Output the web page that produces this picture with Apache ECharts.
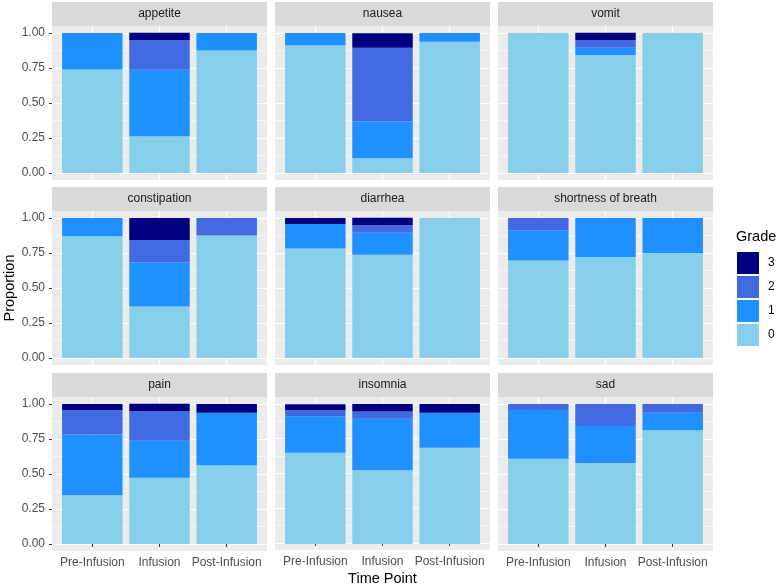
<!DOCTYPE html>
<html>
<head>
<meta charset="utf-8">
<script src="https://cdn.jsdelivr.net/npm/echarts@6/dist/echarts.min.js"></script>
<style>html,body{margin:0;padding:0;background:#fff;}#c{width:781px;height:587px;}</style>
</head>
<body>
<div id="c"></div>
<script>
const symptoms = ['appetite','nausea','vomit','constipation','diarrhea','shortness of breath','pain','insomnia','sad'];
const timePoints = ['Pre-Infusion','Infusion','Post-Infusion'];
const grades = ['0','1','2','3'];
const gradeColors = ['#87CEEB','#1E90FF','#4169E1','#000080'];
const yTicks = [0, 0.25, 0.5, 0.75, 1];
const yMinorTicks = [0.125, 0.375, 0.625, 0.875];
// proportion per symptom [Pre, Infusion, Post]
const grade0 = [[0.739,0.263,0.875],[0.913,0.105,0.9375],[1,0.842,1],[0.87,0.368,0.875],[0.783,0.737,1],[0.696,0.722,0.75],[0.348,0.474,0.5625],[0.652,0.526,0.6875],[0.609,0.579,0.8125]];
const grade1 = [[0.261,0.474,0.125],[0.087,0.263,0.0625],[0,0.053,0],[0.13,0.316,0],[0.174,0.158,0],[0.217,0.278,0.25],[0.435,0.263,0.375],[0.261,0.368,0.25],[0.348,0.263,0.125]];
const grade2 = [[0,0.211,0],[0,0.526,0],[0,0.053,0],[0,0.158,0.125],[0,0.053,0],[0.087,0,0],[0.174,0.211,0],[0.043,0.053,0],[0.043,0.158,0.0625]];
const grade3 = [[0,0.053,0],[0,0.105,0],[0,0.053,0],[0,0.158,0],[0.043,0.053,0],[0,0,0],[0.043,0.053,0.0625],[0.043,0.053,0.0625],[0,0,0]];
const gradeData = [grade0, grade1, grade2, grade3];

const FONT = "'Liberation Sans', Arial, sans-serif";
const colLeft = [52, 275, 498];
const stripTop = [2, 187, 373];
const panelW = 215, stripH = 24, panelH = 154;
const yMin = -0.05, yMax = 1.05;
// discrete axis positions 1..n, ggplot-like expansion of 0.6 on each side
const nCat = timePoints.length;
const xPos = timePoints.map((t, k) => k + 1);
const xMin = 0.4, xMax = nCat + 0.6;
const unitPx = panelW / (xMax - xMin);

const grids = [], xAxes = [], yAxes = [], series = [], graphics = [];
symptoms.forEach((s, i) => {
  const r = Math.floor(i / 3), c = i % 3;
  const top = stripTop[r] + stripH;
  const bottomRow = r === 2, firstCol = c === 0;
  // background panel grid (full width, holds grid lines, ticks, labels)
  grids.push({left: colLeft[c], top: top, width: panelW, height: panelH, show: true, backgroundColor: '#EBEBEB', borderWidth: 0});
  // bar grid: category bands covering 0.5..n+0.5
  grids.push({left: colLeft[c] + (0.5 - xMin) * unitPx, top: top, width: nCat * unitPx, height: panelH, show: false});
  xAxes.push({
    type: 'value', gridIndex: 2 * i, min: xMin, max: xMax,
    axisLine: {show: false},
    axisTick: {show: bottomRow, length: 3, customValues: xPos, lineStyle: {color: '#333333', width: 1}},
    axisLabel: {show: bottomRow, customValues: xPos, color: '#4D4D4D', fontSize: 12, fontFamily: FONT, margin: 6,
      formatter: v => timePoints[Math.round(v) - 1]},
    splitLine: {show: true, lineStyle: {color: '#FFFFFF', width: 1.2}},
    name: (i === 7) ? 'Time Point' : '', nameLocation: 'middle', nameGap: 21,
    nameTextStyle: {color: '#000', fontSize: 14.5, fontFamily: FONT}
  });
  xAxes.push({
    type: 'category', gridIndex: 2 * i + 1, data: timePoints,
    axisLine: {show: false}, axisTick: {show: false}, axisLabel: {show: false}, splitLine: {show: false}
  });
  yAxes.push({
    type: 'value', gridIndex: 2 * i, min: yMin, max: yMax,
    axisLine: {show: false},
    axisTick: {show: firstCol, length: 3, customValues: yTicks, lineStyle: {color: '#333333', width: 1}},
    axisLabel: {show: firstCol, customValues: yTicks, color: '#4D4D4D', fontSize: 12, fontFamily: FONT, margin: 7,
      formatter: v => Number(v).toFixed(2)},
    splitLine: {show: true, lineStyle: {color: '#FFFFFF', width: 1.2}},
    name: (i === 3) ? 'Proportion' : '', nameLocation: 'middle', nameGap: 34,
    nameTextStyle: {color: '#000', fontSize: 14.5, fontFamily: FONT}
  });
  yAxes.push({
    type: 'value', gridIndex: 2 * i, min: yMin, max: yMax,
    axisLine: {show: false}, axisLabel: {show: false},
    axisTick: {show: false, customValues: yMinorTicks},
    splitLine: {show: true, lineStyle: {color: '#FFFFFF', width: 0.6}}
  });
  yAxes.push({
    type: 'value', gridIndex: 2 * i + 1, min: yMin, max: yMax,
    axisLine: {show: false}, axisTick: {show: false}, axisLabel: {show: false}, splitLine: {show: false}
  });
  grades.forEach((g, gi) => {
    series.push({
      type: 'bar', name: g, xAxisIndex: 2 * i + 1, yAxisIndex: 3 * i + 2, stack: 'p' + i,
      data: gradeData[gi][i], barCategoryGap: '10%', silent: true,
      itemStyle: {color: gradeColors[gi]}
    });
  });
  graphics.push({
    type: 'rect', left: colLeft[c], top: stripTop[r], silent: true,
    shape: {width: panelW, height: stripH}, style: {fill: '#D9D9D9'}
  });
  graphics.push({
    type: 'text', x: colLeft[c] + panelW / 2, y: stripTop[r] + stripH / 2, silent: true,
    style: {text: s, fill: '#1A1A1A', font: '12px ' + FONT, textAlign: 'center', textVerticalAlign: 'middle'}
  });
});

const chart = echarts.init(document.getElementById('c'), null, {renderer: 'canvas'});
chart.setOption({
  animation: false,
  backgroundColor: '#FFFFFF',
  title: [{text: 'Grade', left: 736, top: 229, padding: 0, textStyle: {fontSize: 14.5, fontWeight: 'normal', color: '#000', fontFamily: FONT}}],
  legend: {
    data: ['3', '2', '1', '0'], orient: 'vertical', left: 737, top: 252, padding: 0,
    itemWidth: 22, itemHeight: 22, itemGap: 2, icon: 'rect', selectedMode: false,
    textStyle: {fontSize: 12, color: '#000', fontFamily: FONT, padding: [0, 0, 0, 4]}
  },
  grid: grids, xAxis: xAxes, yAxis: yAxes, series: series, graphic: graphics
});
</script>
</body>
</html>
